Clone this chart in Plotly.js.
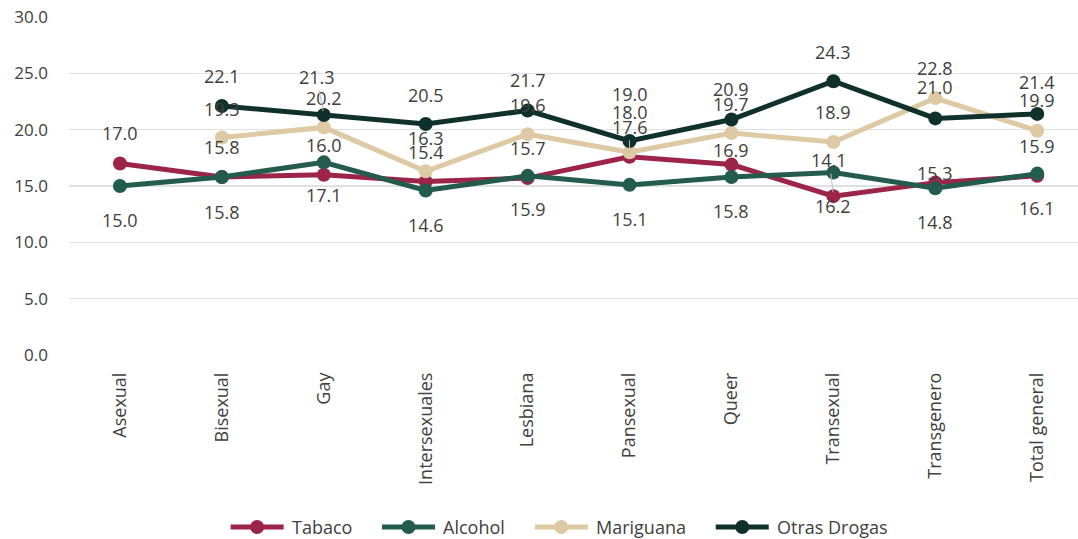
<!DOCTYPE html>
<html>
<head>
<meta charset="utf-8">
<script src="https://cdn.plot.ly/plotly-3.0.1.min.js"></script>
<style>html,body{margin:0;padding:0;background:#fff;}#chart{width:1078px;height:539px;}</style>
</head>
<body>
<div id="chart"></div>
<script>
const categories = ["Asexual","Bisexual","Gay","Intersexuales","Lesbiana","Pansexual","Queer","Transexual","Transgenero","Total general"];
const tabaco     = [17.0, 15.8, 16.0, 15.4, 15.7, 17.6, 16.9, 14.1, 15.3, 15.9];
const alcohol    = [15.0, 15.8, 17.1, 14.6, 15.9, 15.1, 15.8, 16.2, 14.8, 16.1];
const mariguana  = [null, 19.3, 20.2, 16.3, 19.6, 18.0, 19.7, 18.9, 22.8, 19.9];
const otras      = [null, 22.1, 21.3, 20.5, 21.7, 19.0, 20.9, 24.3, 21.0, 21.4];
const yTicks = [0, 5, 10, 15, 20, 25, 30];

// label placement (style): vertical offsets in px, and which labels use a leader line
const shiftTabaco    = [30, 30, 30, 29, 30, 30, 15, 36, 10, 30];
const shiftAlcohol   = [-34, -35, -33, -34, -33, -34, -34, -34, -34, -34];
const shiftMariguana = [0, 29, 29, 33, 29, 40, 29, 30, 30, 31];
const shiftOtras     = [0, 30, 38, 29, 31, 47, 31, 29, 31, 32];
const leaderTabaco   = {5: 0, 7: -4};   // index -> x offset
const leaderOtras    = {2: -7};

const font = "'Open Sans', 'Noto Sans', sans-serif";
const textColor = "#404040";

const series = [
  {name: "Tabaco", data: tabaco, color: "#9D2449", shift: shiftTabaco, leader: leaderTabaco},
  {name: "Alcohol", data: alcohol, color: "#235B4E", shift: shiftAlcohol, leader: {}},
  {name: "Mariguana", data: mariguana, color: "#DDC9A3", shift: shiftMariguana, leader: {}},
  {name: "Otras Drogas", data: otras, color: "#10312B", shift: shiftOtras, leader: leaderOtras}
];

const traces = series.map(s => ({
  type: "scatter",
  mode: "lines+markers",
  name: s.name,
  x: categories,
  y: s.data,
  line: {color: s.color, width: 5},
  marker: {color: s.color, size: 14},
  cliponaxis: false,
  showlegend: false,
  hoverinfo: "x+y+name"
}));

const annotations = [];
series.forEach(s => {
  s.data.forEach((v, i) => {
    if (v === null) return;
    const base = {
      x: categories[i], y: v, xref: "x", yref: "y",
      text: v.toFixed(1),
      font: {family: font, size: 18, color: textColor}
    };
    if (i in s.leader) {
      annotations.push(Object.assign(base, {
        showarrow: true, arrowhead: 0, arrowwidth: 1, arrowcolor: "#bfbfbf",
        ax: s.leader[i], ay: -s.shift[i], standoff: 4
      }));
    } else {
      annotations.push(Object.assign(base, {showarrow: false, yshift: s.shift[i]}));
    }
  });
});

// custom legend below the plot (line + marker symbol, then name)
const W = 1078, H = 539;
const margin = {l: 69, r: 0, t: 17, b: 184};
const plotW = W - margin.l - margin.r, plotH = H - margin.t - margin.b;
const legFont = 18, symW = 57, symGap = 4, itemGap = 30, legY = 527, legCenter = 557;
const cv = document.createElement("canvas").getContext("2d");
cv.font = legFont + "px 'Open Sans'";
const widths = series.map(s => cv.measureText(s.name).width);
const total = widths.reduce((a, w) => a + symW + symGap + w, 0) + itemGap * (series.length - 1);
let cx = legCenter - total / 2;
const px2x = p => (p - margin.l) / plotW;
const py2y = p => (margin.t + plotH - p) / plotH;
const shapes = [];
series.forEach((s, k) => {
  shapes.push({type: "line", xref: "paper", yref: "paper",
    x0: px2x(cx + 2), x1: px2x(cx + symW - 2), y0: py2y(legY), y1: py2y(legY),
    line: {color: s.color, width: 5}});
  shapes.push({type: "circle", xref: "paper", yref: "paper",
    x0: px2x(cx + symW / 2 - 7), x1: px2x(cx + symW / 2 + 7),
    y0: py2y(legY + 7), y1: py2y(legY - 7),
    fillcolor: s.color, line: {color: s.color, width: 0}});
  annotations.push({xref: "paper", yref: "paper", x: px2x(cx + symW + symGap), y: py2y(legY),
    xanchor: "left", yanchor: "middle", showarrow: false, text: s.name,
    font: {family: font, size: legFont, color: textColor}});
  cx += symW + symGap + widths[k] + itemGap;
});

const layout = {
  width: W, height: H,
  margin: margin,
  paper_bgcolor: "#ffffff",
  plot_bgcolor: "#ffffff",
  showlegend: false,
  xaxis: {
    type: "category",
    range: [-0.5, 9.4],
    tickangle: -90,
    tickfont: {family: font, size: 18, color: textColor},
    showgrid: false, zeroline: false, showline: false,
    ticks: "", ticklabelstandoff: 13
  },
  yaxis: {
    range: [0, 30],
    tickvals: yTicks,
    ticktext: yTicks.map(v => v.toFixed(1)),
    tickfont: {family: font, size: 17, color: textColor},
    showgrid: true, gridcolor: "#e0e0e0", gridwidth: 1.5,
    zeroline: false, showline: false, ticks: "",
    ticklabelstandoff: 20
  },
  shapes: shapes,
  annotations: annotations
};

Plotly.newPlot("chart", traces, layout, {displayModeBar: false, staticPlot: true});
</script>
</body>
</html>
